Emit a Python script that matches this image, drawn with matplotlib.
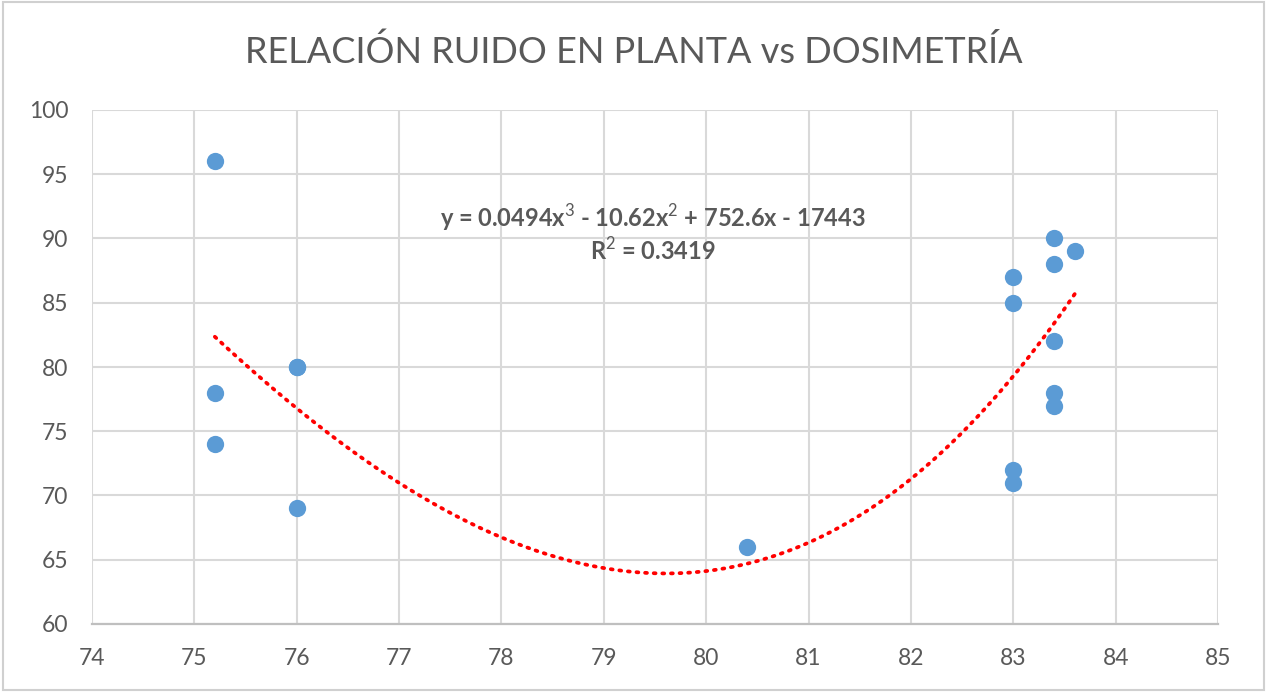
import numpy as np
import matplotlib
matplotlib.use("Agg")
import matplotlib.pyplot as plt
from matplotlib.patches import Rectangle

# (76, 80) appears twice (overlapping points) - this reproduces Excel's trendline exactly
x_vals = [75.2, 75.2, 75.2, 76.0, 76.0, 76.0, 80.4, 83.0, 83.0, 83.0, 83.0,
          83.4, 83.4, 83.4, 83.4, 83.4, 83.6]
y_vals = [96, 78, 74, 80, 80, 69, 66, 87, 85, 72, 71,
          90, 88, 82, 78, 77, 89]
x_ticks = [74, 75, 76, 77, 78, 79, 80, 81, 82, 83, 84, 85]
y_ticks = [60, 65, 70, 75, 80, 85, 90, 95, 100]
title = "RELACIÓN RUIDO EN PLANTA vs DOSIMETRÍA"
eq_text = "y = 0.0494x$^3$ - 10.62x$^2$ + 752.6x - 17443"
r2_text = "R$^2$ = 0.3419"

plt.rcParams['font.family'] = ['Lato', 'DejaVu Sans']
plt.rcParams['mathtext.fontset'] = 'custom'
plt.rcParams['mathtext.rm'] = 'Lato'
plt.rcParams['mathtext.bf'] = 'Lato:bold'

txt = '#595959'
fig = plt.figure(figsize=(12.67, 6.92), dpi=100)
fig.patches.append(Rectangle((0.002, 0.003), 0.996, 0.994, transform=fig.transFigure,
                             fill=False, edgecolor='#d0d0d0', linewidth=1.5))
ax = fig.add_axes([92/1267, 1-624/692, (1218-92)/1267, (624-110)/692])

ax.set_xlim(74, 85)
ax.set_ylim(60, 100)
ax.set_xticks(x_ticks)
ax.set_yticks(y_ticks)
ax.grid(True, color='#d9d9d9', linewidth=1.5)
ax.set_axisbelow(True)
for s in ['left', 'right', 'top']:
    ax.spines[s].set_visible(False)
ax.spines['bottom'].set_color('#bfbfbf')
ax.spines['bottom'].set_linewidth(1.6)
ax.tick_params(length=0, labelsize=16.5, colors=txt, pad=17)

# polynomial (order 3) trendline fitted to the data
coef = np.polyfit(x_vals, y_vals, 3)
xs = np.linspace(min(x_vals), max(x_vals), 300)
ax.plot(xs, np.polyval(coef, xs), color='#ff0000', linestyle=(0, (0.5, 1.8)),
        linewidth=2.7, dash_capstyle='round', zorder=2)

ax.scatter(x_vals, y_vals, s=155, color='#5b9bd5', zorder=3, linewidths=0)

ax.text(79.48, 91.6, eq_text, ha='center', va='center', fontsize=17,
        fontweight='bold', color=txt)
ax.text(79.48, 89.1, r2_text, ha='center', va='center', fontsize=17,
        fontweight='bold', color=txt)

fig.text(0.5, 1-52/692, title, ha='center', va='center', fontsize=26, color=txt)

fig.savefig("out.png", dpi=100)
